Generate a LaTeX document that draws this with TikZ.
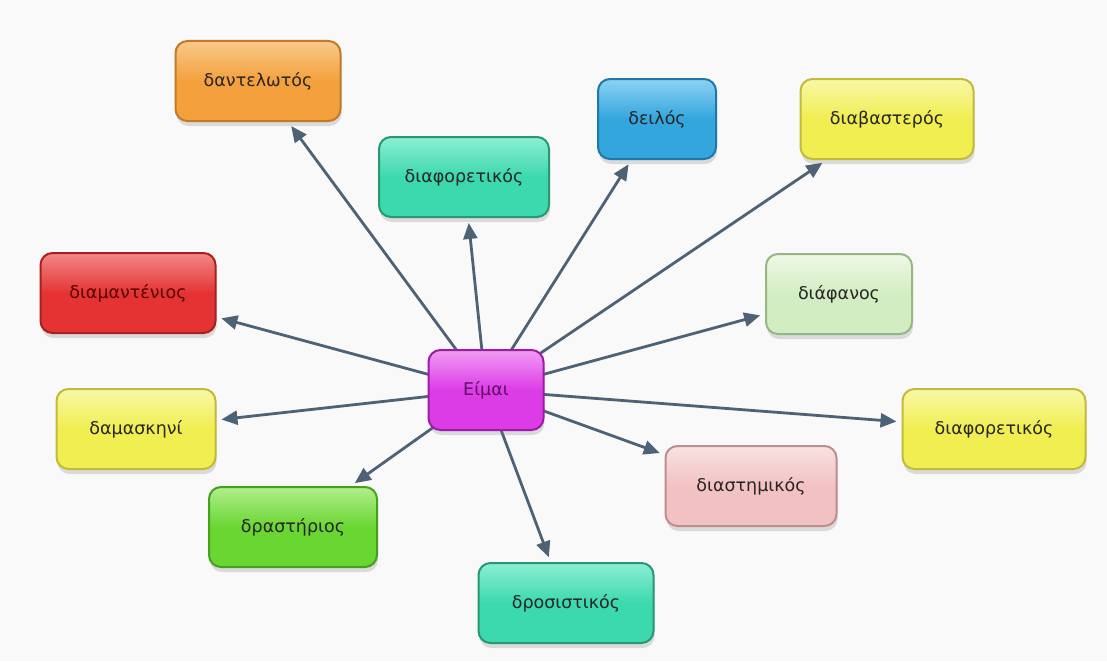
\documentclass[tikz,border=0pt]{standalone}
\usepackage{fontspec}
\setmainfont{DejaVu Sans}
\usetikzlibrary{shadows,arrows.meta}
\definecolor{bg}{HTML}{F9F9F9}
\definecolor{arr}{HTML}{4E6276}
\definecolor{orF}{HTML}{F4A03C}\definecolor{orT}{HTML}{F9C98A}\definecolor{orB}{HTML}{C27A28}
\definecolor{teF}{HTML}{3CD8AE}\definecolor{teT}{HTML}{8BEFD3}\definecolor{teB}{HTML}{2A9676}
\definecolor{blF}{HTML}{33A6DE}\definecolor{blT}{HTML}{8DD2F2}\definecolor{blB}{HTML}{1F78A8}
\definecolor{yeF}{HTML}{F0EE50}\definecolor{yeT}{HTML}{F9F8A8}\definecolor{yeB}{HTML}{C2BA3A}
\definecolor{reF}{HTML}{E53333}\definecolor{reT}{HTML}{F28888}\definecolor{reB}{HTML}{A82020}
\definecolor{lgF}{HTML}{D3EDC2}\definecolor{lgT}{HTML}{EEF8E6}\definecolor{lgB}{HTML}{96B684}
\definecolor{maF}{HTML}{DC3CE6}\definecolor{maT}{HTML}{F09CF4}\definecolor{maB}{HTML}{9C1CA6}
\definecolor{piF}{HTML}{F2C2C2}\definecolor{piT}{HTML}{F9E2E2}\definecolor{piB}{HTML}{BC8E8E}
\definecolor{grF}{HTML}{6AD632}\definecolor{grT}{HTML}{B0EE8C}\definecolor{grB}{HTML}{46A020}
\tikzset{
  box/.style n args={3}{draw=#3, line width=2pt, rounded corners=12pt,
    top color=#2, bottom color=#1, middle color=#1,
    minimum height=80pt, align=center, text=black!85,
    font=\fontsize{17.5}{20}\selectfont,
    drop shadow={opacity=0.25, shadow xshift=1pt, shadow yshift=-5pt}},
  link/.style={draw=arr, line width=2.8pt, -{Triangle[length=16pt,width=14pt]}, shorten >=5pt}
}
\begin{document}
\begin{tikzpicture}[x=1pt,y=-1pt]
\fill[bg] (0,0) rectangle (1107,661);
\useasboundingbox (0,0) rectangle (1107,661);
% nodes
\node[box={orF}{orT}{orB}, minimum width=165pt] (n1) at (258,81) {δαντελωτός};
\node[box={teF}{teT}{teB}, minimum width=170pt] (n2) at (464,177) {διαφορετικός};
\node[box={blF}{blT}{blB}, minimum width=118pt] (n3) at (657,119) {δειλός};
\node[box={yeF}{yeT}{yeB}, minimum width=173pt] (n4) at (887,119) {διαβαστερός};
\node[box={reF}{reT}{reB}, minimum width=175pt, text=red!35!black] (n5) at (128,293) {διαμαντένιος};
\node[box={lgF}{lgT}{lgB}, minimum width=146pt] (n6) at (839,294) {διάφανος};
\node[box={yeF}{yeT}{yeB}, minimum width=159pt] (n8) at (136,429) {δαμασκηνί};
\node[box={yeF}{yeT}{yeB}, minimum width=183pt] (n9) at (994,429) {διαφορετικός};
\node[box={piF}{piT}{piB}, minimum width=171pt] (n10) at (751,486) {διαστημικός};
\node[box={grF}{grT}{grB}, minimum width=168pt] (n11) at (293,527) {δραστήριος};
\node[box={teF}{teT}{teB}, minimum width=175pt] (n12) at (566,603) {δροσιστικός};
% connectors
\coordinate (c) at (486,390);
\draw[link] (c) -- (n1);
\draw[link] (c) -- (n2);
\draw[link] (c) -- (n3);
\draw[link] (c) -- (n4);
\draw[link] (c) -- (n5);
\draw[link] (c) -- (n6);
\draw[link] (c) -- (n8);
\draw[link] (c) -- (n9);
\draw[link] (c) -- (n10);
\draw[link] (c) -- (n11);
\draw[link] (c) -- (n12);
\node[box={maF}{maT}{maB}, minimum width=115pt, text=maB!60!black] (n7) at (c) {Είμαι};
\end{tikzpicture}
\end{document}
